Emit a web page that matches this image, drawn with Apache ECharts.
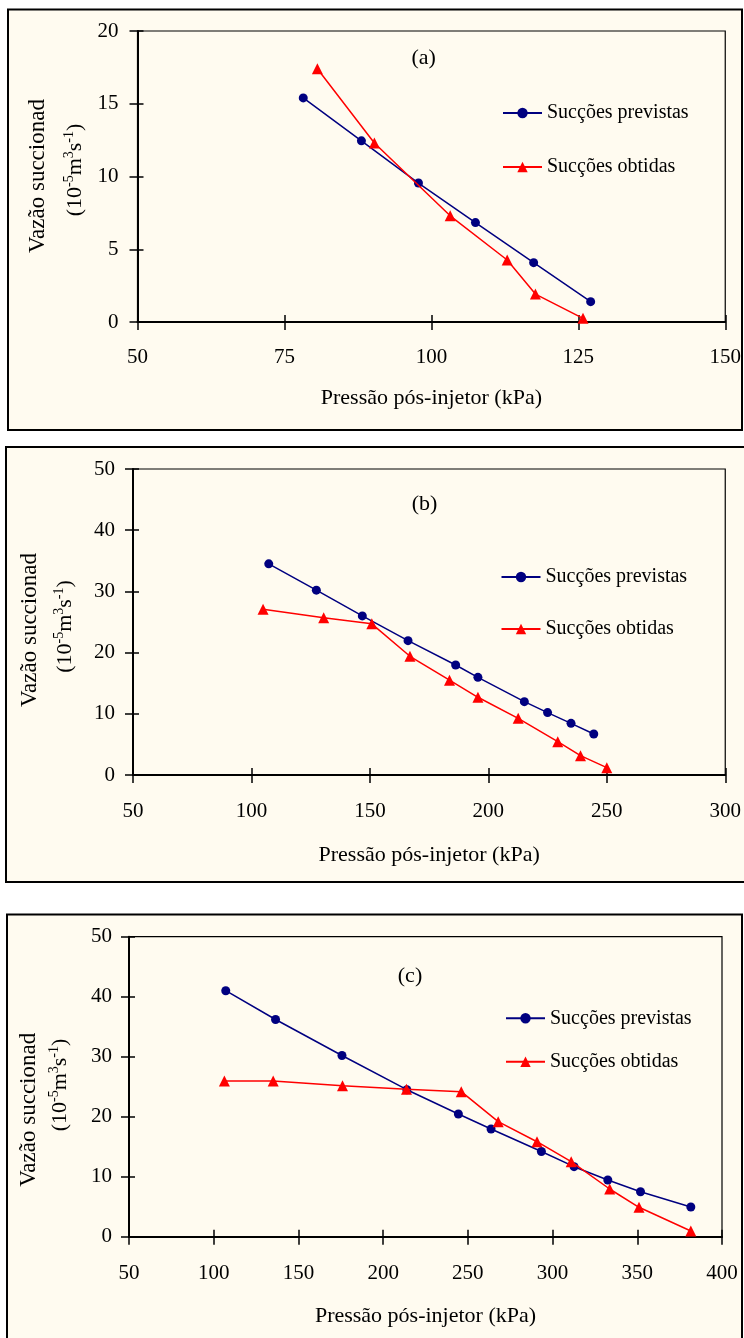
<!DOCTYPE html>
<html>
<head>
<meta charset="utf-8">
<script src="https://cdn.jsdelivr.net/npm/echarts@6/dist/echarts.min.js"></script>
<style>
  html, body { margin: 0; padding: 0; background: #ffffff; }
  #chart { width: 744px; height: 1338px; }
</style>
</head>
<body>
<div id="chart"></div>
<script>
// ---------- data ----------
const seriesNames = ['Sucções previstas', 'Sucções obtidas'];
const panelLabels = ['(a)', '(b)', '(c)'];
const xAxisTitle = 'Pressão pós-injetor (kPa)';
const yAxisTitle1 = 'Vazão succionada';
const yAxisTitle2 = '(10{sup|-5}m{sup|3}s{sup|-1})';

// axis ranges [min, max, interval]
const xRangeA = [50, 150, 25];
const yRangeA = [0, 20, 5];
const xRangeB = [50, 300, 50];
const yRangeB = [0, 50, 10];
const xRangeC = [50, 400, 50];
const yRangeC = [0, 50, 10];

// panel (a)
const prevAx = [78.2, 88.1, 97.8, 107.5, 117.4, 127.1];
const prevAy = [15.4, 12.45, 9.55, 6.83, 4.08, 1.4];
const obtAx = [80.6, 90.3, 103.2, 112.9, 117.7, 125.8];
const obtAy = [17.4, 12.3, 7.3, 4.26, 1.92, 0.25];

// panel (b)
const prevBx = [107.3, 127.4, 146.8, 166.1, 186.2, 195.6, 215.2, 225.0, 234.9, 244.5];
const prevBy = [34.5, 30.2, 26.0, 21.95, 17.97, 15.96, 11.98, 10.2, 8.44, 6.7];
const obtBx = [104.9, 130.5, 150.8, 166.9, 183.6, 195.6, 212.6, 229.3, 238.9, 250.0];
const obtBy = [27.1, 25.7, 24.7, 19.4, 15.5, 12.7, 9.26, 5.45, 3.16, 1.2];

// panel (c)
const prevCx = [107.1, 136.5, 175.7, 214.0, 244.4, 263.7, 293.4, 312.7, 332.6, 351.9, 381.6];
const prevCy = [41.0, 36.2, 30.2, 24.5, 20.45, 17.95, 14.2, 11.67, 9.45, 7.5, 4.95];
const obtCx = [106.3, 135.1, 176.0, 213.8, 246.1, 267.9, 290.8, 311.0, 333.7, 351.0, 381.6];
const obtCy = [25.95, 25.95, 25.17, 24.56, 24.17, 19.17, 15.83, 12.5, 7.95, 4.9, 0.95];

// ---------- layout / style ----------
const FONT = '"Liberation Serif", "Times New Roman", serif';
const BLUE = '#000080';
const RED = '#FF0000';
const CREAM = '#FFFBF0';

const zip = (xs, ys) => xs.map((x, i) => [x, ys[i]]);

const panels = [
  { grid: { left: 137.5, top: 31, width: 589.5, height: 291 }, xr: xRangeA, yr: yRangeA,
    prev: zip(prevAx, prevAy), obt: zip(obtAx, obtAy),
    xMargin: 25, nameGap: 65, yMargin: 19,
    legend: { left: 502, top: 103, itemGap: 34 },
    title: [423.6, 58], yl1: [38, 253], yl2: [75, 170],
    box: [8, 9.5, 734, 420.5] },
  { grid: { left: 133, top: 469, width: 596, height: 306 }, xr: xRangeB, yr: yRangeB,
    prev: zip(prevBx, prevBy), obt: zip(obtBx, obtBy),
    xMargin: 26, nameGap: 69, yMargin: 18,
    legend: { left: 500.5, top: 567, itemGap: 32 },
    title: [424.6, 504], yl1: [30, 707], yl2: [65, 626.5],
    box: [6, 447, 745, 435] },
  { grid: { left: 129, top: 936.7, width: 593, height: 300 }, xr: xRangeC, yr: yRangeC,
    prev: zip(prevCx, prevCy), obt: zip(obtCx, obtCy),
    xMargin: 26, nameGap: 69, yMargin: 17,
    legend: { left: 505, top: 1008.3, itemGap: 23.4 },
    title: [410, 976.7], yl1: [28.5, 1186.7], yl2: [60, 1085],
    box: [7, 914.5, 735, 430] }
];

const grids = [], xAxes = [], yAxes = [], series = [], legends = [], graphics = [];

panels.forEach((p, i) => {
  grids.push(Object.assign({ containLabel: false, show: true, borderColor: '#000', borderWidth: 1.2, backgroundColor: 'transparent' }, p.grid));

  const labelStyle = { color: '#000', fontFamily: FONT, fontSize: 21 };
  xAxes.push({
    type: 'value', gridIndex: i, position: 'bottom', min: p.xr[0], max: p.xr[1], interval: p.xr[2],
    axisLine: { show: true, onZero: false, lineStyle: { color: '#000', width: 2 } },
    axisTick: { show: true, inside: false, length: 8, lineStyle: { color: '#000', width: 1.5 } },
    axisLabel: Object.assign({ margin: p.xMargin }, labelStyle),
    splitLine: { show: false },
    name: xAxisTitle, nameLocation: 'middle', nameGap: p.nameGap,
    nameTextStyle: { color: '#000', fontFamily: FONT, fontSize: 22 }
  });
  xAxes.push({
    type: 'value', gridIndex: i, position: 'bottom', min: p.xr[0], max: p.xr[1], interval: p.xr[2],
    axisLine: { show: false, onZero: false },
    axisTick: { show: true, inside: true, length: 7, lineStyle: { color: '#000', width: 1.5 } },
    axisLabel: { show: false }, splitLine: { show: false }
  });
  yAxes.push({
    type: 'value', gridIndex: i, position: 'left', min: p.yr[0], max: p.yr[1], interval: p.yr[2],
    axisLine: { show: true, onZero: false, lineStyle: { color: '#000', width: 2 } },
    axisTick: { show: true, inside: false, length: 8, lineStyle: { color: '#000', width: 1.5 } },
    axisLabel: Object.assign({ margin: p.yMargin }, labelStyle),
    splitLine: { show: false }
  });
  yAxes.push({
    type: 'value', gridIndex: i, position: 'left', min: p.yr[0], max: p.yr[1], interval: p.yr[2],
    axisLine: { show: false, onZero: false },
    axisTick: { show: true, inside: true, length: 6, lineStyle: { color: '#000', width: 1.5 } },
    axisLabel: { show: false }, splitLine: { show: false }
  });

  series.push({
    name: seriesNames[0], type: 'line', xAxisIndex: i * 2, yAxisIndex: i * 2,
    data: p.prev, symbol: 'circle', symbolSize: 9, z: 3,
    lineStyle: { color: BLUE, width: 1.5 }, itemStyle: { color: BLUE }
  });
  series.push({
    name: seriesNames[1], type: 'line', xAxisIndex: i * 2, yAxisIndex: i * 2,
    data: p.obt, symbol: 'triangle', symbolSize: 11, z: 4,
    lineStyle: { color: RED, width: 1.5 }, itemStyle: { color: RED }
  });

  legends.push({
    orient: 'vertical', left: p.legend.left, top: p.legend.top, itemGap: p.legend.itemGap,
    padding: 0, itemWidth: 39, itemHeight: 13, selectedMode: false,
    data: seriesNames,
    textStyle: { color: '#000', fontFamily: FONT, fontSize: 20, lineHeight: 20, padding: [0, 0, 0, 0] }
  });

  graphics.push({ type: 'rect', z: -10, silent: true,
    shape: { x: p.box[0], y: p.box[1], width: p.box[2], height: p.box[3] },
    style: { fill: CREAM, stroke: null } });
  graphics.push({ type: 'rect', z: 100, silent: true,
    shape: { x: p.box[0], y: p.box[1], width: p.box[2], height: p.box[3] },
    style: { fill: null, stroke: '#000', lineWidth: 2 } });

  graphics.push({ type: 'text', x: p.title[0], y: p.title[1], silent: true,
    style: { text: panelLabels[i], font: '22px ' + FONT, fill: '#000', align: 'center', verticalAlign: 'middle' } });

  graphics.push({ type: 'text', x: p.yl1[0], y: p.yl1[1], rotation: Math.PI / 2, silent: true,
    style: { text: yAxisTitle1, font: '23px ' + FONT, fill: '#000', align: 'left', verticalAlign: 'middle',
      width: 160, overflow: 'truncate', ellipsis: '' } });
  graphics.push({ type: 'text', x: p.yl2[0], y: p.yl2[1], rotation: Math.PI / 2, silent: true,
    style: { text: yAxisTitle2, font: '22px ' + FONT, fill: '#000', align: 'center', verticalAlign: 'middle',
      lineHeight: 26,
      rich: { sup: { fontSize: 14, fontFamily: FONT, fill: '#000', verticalAlign: 'top', lineHeight: 14 } } } });
});

const chart = echarts.init(document.getElementById('chart'), null, { renderer: 'canvas' });
chart.setOption({
  animation: false,
  backgroundColor: '#ffffff',
  textStyle: { fontFamily: FONT },
  grid: grids,
  xAxis: xAxes,
  yAxis: yAxes,
  legend: legends,
  series: series,
  graphic: { elements: graphics }
});
</script>
</body>
</html>
